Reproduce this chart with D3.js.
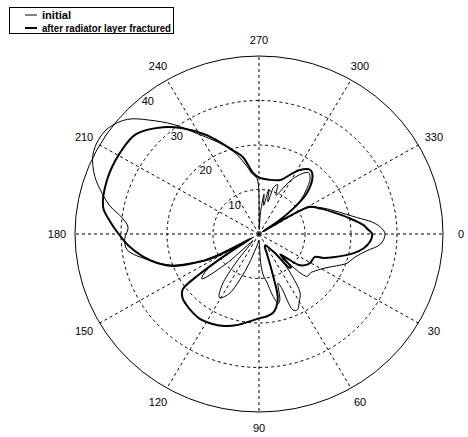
<!DOCTYPE html>
<html>
<head>
<meta charset="utf-8">
<script src="https://cdn.jsdelivr.net/npm/d3@7"></script>
<style>
  body { margin: 0; background: #fff; }
  text { font-family: "Liberation Sans", Arial, sans-serif; fill: #000; }
</style>
</head>
<body>
<div id="chart"></div>
<script>
// polar data: [angle in degrees (clockwise from right), radius]
var initialData = [
  [0,27.4],[5,26.5],[9,23.8],[14,21.5],[19,20.2],[23,18.3],[27,16.6],[33,15],[38,14.2],[42,14.2],
  [44,13],[46,9],[49,7.5],[52,11],[56,16],[60,17.5],[64,19],[66.6,18.6],[68,13],[69.5,11.8],
  [73,15.5],[75,16.2],[78,14],[81,11],[84,9.5],[86.5,7],[88.5,2],[92,1.5],[98,2.5],[104,4],
  [108,7],[112,11],[116,15],[121,16.7],[125,14],[128,8],[131,2],[134,3],[137,10],[141,16],
  [144,14.5],[147,9],[149,6],[151,11],[153,13.5],[156,16],[160,20.5],[166,24.5],[173,28.9],[178,29.2],
  [183,28.5],[187,30],[191,33],[195,35.3],[200,38],[206,40.2],[211,40.8],[216,40.5],[222,38.5],[227,35],
  [233,30.8],[239,26.4],[245,23.2],[250,21],[255,18.5],[260,15.5],[264,13.5],[268,12.5],[270.5,4],[272,1],
  [274,5],[277,9],[279,6.5],[282,10.3],[285,7.5],[287,11],[290,11.8],[293,9.5],[297,11.6],[300,14],
  [304,16.2],[308,17.5],[312,16.6],[316,14.3],[320,11.8],[323,9],[326,4],[327.5,1],[329,8],[331,12.3],
  [337,15],[343,17.5],[350,21.5],[354,24.9],[357,26.6]
];
var fracturedData = [
  [0,24.6],[4,24.2],[8,23],[12,20.9],[18,16.9],[21,15],[23,13.2],[30,12.9],[35,12.2],[39,11],
  [42,8],[45,6.5],[47,10.2],[49,10],[51,5.5],[55,4],[60,3],[65,3],[69,5],[72,10],
  [74,14.8],[77,16.8],[80.4,18],[85,18.6],[89.4,18.9],[95,19.6],[103,21],[110,22],[118,22.7],[124,23],
  [129,22.8],[135,22.4],[139.6,21.9],[143,20.8],[145,16],[147,8],[149,2],[150.5,3],[152,10],[154,14],
  [159,20],[166,24.4],[174,28.2],[180,30.5],[185,32.5],[190,34.4],[200,35.2],[211,35.3],[220,34.9],[229,31.8],
  [235,29],[243,24.9],[253,19.7],[258.6,17.6],[264.6,13.8],[271,12.6],[280,12.4],[291,13],[297,15],[301.7,16.9],
  [307.6,18.2],[312,17.4],[318.5,13.9],[322,10],[325,5.5],[327,1],[328.5,6],[329.5,10],[331,12.6],[337,14.6],
  [343,16.8],[350,20.1],[355,22.8],[357,23.5]
];
var angleTicks = [0, 30, 60, 90, 120, 150, 180, 210, 240, 270, 300, 330];
var ringTicks = [10, 20, 30, 40];
var seriesNames = ["initial", "after radiator layer fractured"];

var width = 468, height = 437;
var cx = 259, cy = 234, rx = 184, ry = 178;
var rMax = 40;

var svg = d3.select("#chart").append("svg")
  .attr("width", width)
  .attr("height", height);

var xR = d3.scaleLinear().domain([0, rMax]).range([0, rx]);
var yR = d3.scaleLinear().domain([0, rMax]).range([0, ry]);

function rad(deg) { return deg * Math.PI / 180; }
function px(deg, v) { return cx + xR(v) * Math.cos(rad(deg)); }
function py(deg, v) { return cy + yR(v) * Math.sin(rad(deg)); }

// grid
var grid = svg.append("g");
grid.selectAll("line.spoke")
  .data(angleTicks)
  .enter().append("line")
  .attr("x1", cx).attr("y1", cy)
  .attr("x2", d => px(d, rMax))
  .attr("y2", d => py(d, rMax))
  .attr("stroke", "#000")
  .attr("stroke-width", 1)
  .attr("stroke-dasharray", "3,3");

grid.selectAll("ellipse.ring")
  .data(ringTicks)
  .enter().append("ellipse")
  .attr("cx", cx).attr("cy", cy)
  .attr("rx", d => xR(d))
  .attr("ry", d => yR(d))
  .attr("fill", "none")
  .attr("stroke", "#000")
  .attr("stroke-width", 1)
  .attr("stroke-dasharray", d => d === rMax ? null : "3,3");

// curves
var line = d3.line()
  .x(d => px(d[0], d[1]))
  .y(d => py(d[0], d[1]))
  .curve(d3.curveCatmullRomClosed.alpha(0.5));

svg.append("path")
  .attr("d", line(initialData))
  .attr("fill", "none")
  .attr("stroke", "#000")
  .attr("stroke-width", 1);

svg.append("path")
  .attr("d", line(fracturedData))
  .attr("fill", "none")
  .attr("stroke", "#000")
  .attr("stroke-width", 2)
  .attr("stroke-linejoin", "round");

// angle labels
svg.selectAll("text.angle")
  .data(angleTicks)
  .enter().append("text")
  .attr("x", d => cx + (rx + 18) * Math.cos(rad(d)))
  .attr("y", d => cy + (ry + 16) * Math.sin(rad(d)))
  .attr("dy", "0.35em")
  .attr("text-anchor", "middle")
  .attr("font-size", 11)
  .text(d => d);

// radial labels
svg.selectAll("text.ring")
  .data(ringTicks)
  .enter().append("text")
  .attr("x", d => px(231, d - 1.6))
  .attr("y", d => py(231, d - 1.6))
  .attr("dy", "0.35em")
  .attr("text-anchor", "middle")
  .attr("font-size", 11)
  .text(d => d);

// legend
var legend = svg.append("g");
legend.append("rect")
  .attr("x", 9.5).attr("y", 7.5)
  .attr("width", 164).attr("height", 26)
  .attr("fill", "#fff")
  .attr("stroke", "#000")
  .attr("stroke-width", 1);

var legendRows = legend.selectAll("g")
  .data(seriesNames)
  .enter().append("g")
  .attr("transform", (d, i) => "translate(0," + (15 + i * 13) + ")");

legendRows.append("line")
  .attr("x1", 25).attr("x2", 37)
  .attr("stroke", "#000")
  .attr("stroke-width", (d, i) => i === 0 ? 1 : 2);

legendRows.append("text")
  .attr("x", 42)
  .attr("dy", "0.35em")
  .attr("font-size", 11)
  .attr("font-weight", "bold")
  .attr("textLength", (d, i) => i === 0 ? 29 : 129)
  .attr("lengthAdjust", "spacingAndGlyphs")
  .text(d => d);
</script>
</body>
</html>
